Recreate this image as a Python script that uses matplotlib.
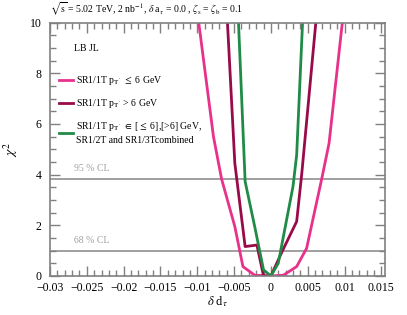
import matplotlib
matplotlib.use("Agg")
import matplotlib.pyplot as plt
from matplotlib.ticker import MultipleLocator

plt.rcParams['font.family'] = ['Liberation Serif', 'DejaVu Serif']
plt.rcParams['mathtext.fontset'] = 'stix'

# data
x_pink = [-0.0098, -0.0078, -0.0067, -0.0049, -0.0038, -0.0022, 0.0, 0.0017, 0.0035, 0.00485, 0.0069, 0.0079, 0.0097]
y_pink = [10.0, 5.5, 3.83, 1.95, 0.37, 0.03, 0.0, 0.03, 0.37, 1.09, 3.83, 5.24, 10.0]

x_dark = [-0.0059, -0.0049, -0.0035, -0.0019, -0.0010, 0.0, 0.0015, 0.0035, 0.0042, 0.0061]
y_dark = [10.0, 4.45, 1.16, 1.22, 0.0, 0.0, 0.95, 2.15, 4.06, 10.0]

x_green = [-0.0044, -0.0035, -0.0022, -0.0010, 0.0, 0.0010, 0.0030, 0.0035, 0.0043]
y_green = [10.0, 3.73, 1.95, 0.24, 0.0, 0.5, 3.53, 4.78, 10.0]

cl_levels = [3.84, 1.0]
cl_labels = ["95 % CL", "68 % CL"]

labels = [r"SR1/1T p$_{\mathrm{T}'}$ $\leq$ 6 GeV",
          r"SR1/1T p$_{\mathrm{T}'}$ > 6 GeV",
          "SR1/1T p$_{\\mathrm{T}'}$ $\\in$ [$\\leq$ 6],[>6] GeV,\nSR1/2T and SR1/3Tcombined"]
colors = ["#e8318a", "#980a48", "#1f8b46"]

fig = plt.figure(figsize=(4.07, 3.15), dpi=100)
ax = fig.add_axes([0.1229, 0.124, 0.8231, 0.804])

for lvl in cl_levels:
    ax.axhline(lvl, color="#a0a0a0", lw=1.4, zorder=1)
ax.text(-0.0268, 3.84 + 0.22, cl_labels[0], color="#a0a0a0", fontsize=7, va="bottom")
ax.text(-0.0268, 1.0 + 0.22, cl_labels[1], color="#a0a0a0", fontsize=7, va="bottom")

l1, = ax.plot(x_pink, y_pink, color=colors[0], lw=2, label=labels[0])
l2, = ax.plot(x_dark, y_dark, color=colors[1], lw=2, label=labels[1])
l3, = ax.plot(x_green, y_green, color=colors[2], lw=2, label=labels[2])

ax.set_xlim(-0.03, 0.0155)
ax.set_ylim(0, 10)
ax.xaxis.set_major_locator(MultipleLocator(0.005))
ax.xaxis.set_minor_locator(MultipleLocator(0.001))
ax.yaxis.set_major_locator(MultipleLocator(2))
ax.yaxis.set_minor_locator(MultipleLocator(0.5))
ax.set_xticks([-0.03, -0.025, -0.02, -0.015, -0.01, -0.005, 0, 0.005, 0.01, 0.015])
ax.set_xticklabels(["\u22120.03", "\u22120.025", "\u22120.02", "\u22120.015", "\u22120.01", "\u22120.005", "0", "0.005", "0.01", "0.015"])
ax.set_yticks([0, 2, 4, 6, 8, 10])
ax.set_yticklabels(["0", "2", "4", "6", "8", "10"])
ax.tick_params(which="both", direction="in", top=True, right=True, color="#808080", labelsize=8.5)
ax.tick_params(axis="x", pad=4.5)
ax.tick_params(axis="y", pad=6)
ax.tick_params(which="major", length=7, width=1)
ax.tick_params(which="minor", length=4, width=1)
for s in ax.spines.values():
    s.set_color("#808080")
    s.set_linewidth(1.2)

ax.set_xlabel(r"$\delta$ d$_\tau$", fontsize=9, labelpad=0)
ax.set_ylabel(r"$\chi^2$", fontsize=10, labelpad=7)

ax.text(-0.0268, 8.98, "LB JL", fontsize=7, va="center")
leg = ax.legend(handles=[l1, l2, l3], loc="upper left", bbox_to_anchor=(0.0, 0.83),
                frameon=False, fontsize=7, handlelength=1.5, handletextpad=0.3,
                labelspacing=1.0, borderaxespad=0.5)
leg.get_texts()[2].set_linespacing(1.45)

fig.text(0.1229, 0.945, r"$\sqrt{\mathrm{s}}$ = 5.02 TeV, 2 nb$^{-1}$, $\delta$ a$_\tau$ = 0.0 , $\zeta_\mathrm{s}$ = $\zeta_\mathrm{b}$ = 0.1",
         fontsize=7, va="bottom", ha="left")

fig.savefig("out.png", dpi=100)
